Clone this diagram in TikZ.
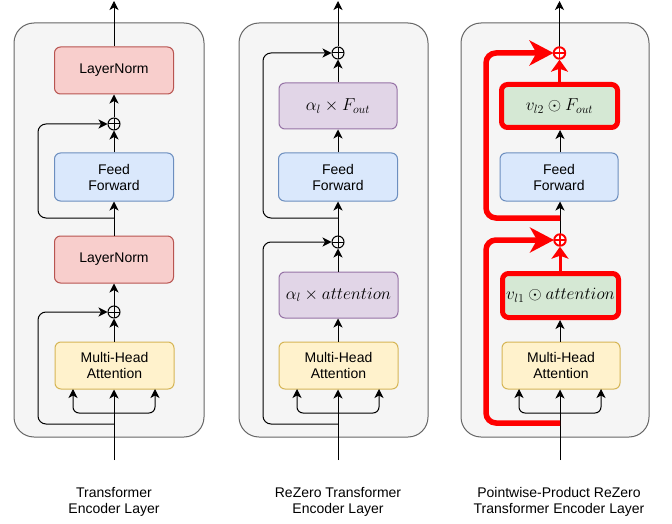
\documentclass[tikz,border=0pt]{standalone}
\usepackage{fontspec}
\setmainfont{Liberation Sans}
\usetikzlibrary{arrows.meta,calc}
\definecolor{panelfill}{HTML}{F5F5F5}
\definecolor{paneldraw}{HTML}{666666}
\definecolor{lnfill}{HTML}{F8CECC}
\definecolor{lndraw}{HTML}{B85450}
\definecolor{fffill}{HTML}{DAE8FC}
\definecolor{ffdraw}{HTML}{6C8EBF}
\definecolor{mhafill}{HTML}{FFF2CC}
\definecolor{mhadraw}{HTML}{D6B656}
\definecolor{pfill}{HTML}{E1D5E7}
\definecolor{pdraw}{HTML}{9673A6}
\definecolor{gfill}{HTML}{D5E8D4}
\definecolor{hred}{HTML}{FF0000}
\tikzset{
  panel/.style={fill=panelfill,draw=paneldraw,line width=1pt,rounded corners=20pt},
  blk/.style={rectangle,rounded corners=6pt,minimum width=119pt,minimum height=47pt,
    align=center,font=\fontsize{14}{16}\selectfont,line width=1pt,inner sep=0pt},
  lnbox/.style={blk,fill=lnfill,draw=lndraw},
  ffbox/.style={blk,fill=fffill,draw=ffdraw},
  mhabox/.style={blk,fill=mhafill,draw=mhadraw},
  pbox/.style={blk,fill=pfill,draw=pdraw,font=\fontsize{17}{20}\selectfont},
  gbox/.style={blk,fill=gfill,draw=hred,line width=5pt,minimum width=116pt,minimum height=43pt,font=\fontsize{17}{20}\selectfont},
  opl/.style={circle,draw=black,line width=1pt,minimum size=12pt,inner sep=0pt,
    path picture={\draw[line width=1pt] (path picture bounding box.north) -- (path picture bounding box.south)
      (path picture bounding box.west) -- (path picture bounding box.east);}},
  ropl/.style={circle,draw=hred,fill=white,line width=1.9pt,minimum size=11.5pt,inner sep=0pt,
    path picture={\draw[hred,line width=1.9pt] (path picture bounding box.north) -- (path picture bounding box.south)
      (path picture bounding box.west) -- (path picture bounding box.east);}},
  arr/.style={-{Stealth[length=9pt,width=9pt,inset=2.5pt]},line width=1pt},
  ln/.style={line width=1pt},
  rskip/.style={hred,line width=5.5pt,rounded corners=10pt,-{Stealth[length=24pt,width=25pt,inset=7pt]}},
  rarr/.style={hred,line width=3pt,-{Stealth[length=12pt,width=17pt,inset=3pt]}},
  lbl/.style={align=center,font=\fontsize{14}{16}\selectfont}
}
\begin{document}
\begin{tikzpicture}[x=1pt,y=-1pt]
\useasboundingbox (0,0) rectangle (672,524);
% ---------- Left panel ----------
\path[panel] (14,23) rectangle (204,437);
\node[lnbox] (L-ln2) at (114,70.5) {LayerNorm};
\node[opl] (L-op2) at (114,124) {};
\node[ffbox,minimum height=48pt] (L-ff) at (114,177) {Feed\\Forward};
\node[lnbox] (L-ln1) at (114,259.5) {LayerNorm};
\node[opl] (L-op1) at (114,312) {};
\node[mhabox] (L-mha) at (114.5,365.5) {Multi-Head\\Attention};
\coordinate (L-in) at (114,460);
\coordinate (L-out) at (114,1);
\coordinate (L-br) at (114,413);
\coordinate (L-brl) at (73,389);
\coordinate (L-brr) at (155,389);
\coordinate (L-s1) at (114,424);
\coordinate (L-k1) at (38,424);
\coordinate (L-s2) at (114,218);
\coordinate (L-k2) at (38,218);
\draw[arr] (L-in) -- (L-mha.south -| L-in);
\draw[arr,rounded corners=6pt] (L-br) -| (L-brl);
\draw[arr,rounded corners=6pt] (L-br) -| (L-brr);
\draw[arr,rounded corners=8pt] (L-s1) -- (L-k1) |- (L-op1.west);
\draw[arr] (L-mha.north -| L-in) -- (L-op1.south);
\draw[arr] (L-op1.north) -- (L-ln1.south -| L-op1);
\draw[arr] (L-ln1.north -| L-op1) -- (L-ff.south -| L-op1);
\draw[arr,rounded corners=8pt] (L-s2) -- (L-k2) |- (L-op2.west);
\draw[arr] (L-ff.north -| L-op2) -- (L-op2.south);
\draw[arr] (L-op2.north) -- (L-ln2.south -| L-op2);
\draw[arr] (L-ln2.north -| L-op2) -- (L-out);
\node[lbl] (L-lbl) at (114,502) {Transformer\\Encoder Layer};
% ---------- Middle panel ----------
\path[panel] (239,23) rectangle (428,437);
\node[opl] (M-op2) at (338,53) {};
\node[pbox,minimum width=118pt,minimum height=46pt] (M-fo) at (338,106) {$\alpha_l\times F_{out}$};
\node[ffbox,minimum height=48pt] (M-ff) at (338,177) {Feed\\Forward};
\node[opl] (M-op1) at (338,242) {};
\node[pbox,minimum width=119pt,minimum height=46pt] (M-at) at (338.5,295) {$\alpha_l\times attention$};
\node[mhabox] (M-mha) at (338.5,365.5) {Multi-Head\\Attention};
\coordinate (M-in) at (338,460);
\coordinate (M-out) at (338,1);
\coordinate (M-br) at (338,413);
\coordinate (M-brl) at (297,389);
\coordinate (M-brr) at (379,389);
\coordinate (M-s1) at (338,424);
\coordinate (M-k1) at (263,424);
\coordinate (M-s2) at (338,218);
\coordinate (M-k2) at (263,218);
\draw[arr] (M-in) -- (M-mha.south -| M-in);
\draw[arr,rounded corners=6pt] (M-br) -| (M-brl);
\draw[arr,rounded corners=6pt] (M-br) -| (M-brr);
\draw[arr] (M-mha.north -| M-in) -- (M-at.south -| M-in);
\draw[arr] (M-at.north -| M-in) -- (M-op1.south);
\draw[arr,rounded corners=8pt] (M-s1) -- (M-k1) |- (M-op1.west);
\draw[arr] (M-op1.north) -- (M-ff.south -| M-op1);
\draw[arr] (M-ff.north -| M-op1) -- (M-fo.south -| M-op1);
\draw[arr] (M-fo.north -| M-op1) -- (M-op2.south);
\draw[arr,rounded corners=8pt] (M-s2) -- (M-k2) |- (M-op2.west);
\draw[arr] (M-op2.north) -- (M-out);
\node[lbl] (M-lbl) at (338,502) {ReZero Transformer\\Encoder Layer};
% ---------- Right panel ----------
\path[panel] (461,23) rectangle (649,437);
\node[gbox] (R-v2) at (559.5,106) {$v_{l2}\odot F_{out}$};
\node[ffbox,minimum width=118pt,minimum height=48pt] (R-ff) at (559,177) {Feed\\Forward};
\node[gbox,minimum height=44pt] (R-v1) at (560.5,295.5) {$v_{l1}\odot attention$};
\node[mhabox,minimum width=118pt] (R-mha) at (561,365.5) {Multi-Head\\Attention};
\coordinate (R-in) at (560,460);
\coordinate (R-out) at (559.5,1);
\coordinate (R-br) at (560,413);
\coordinate (R-brl) at (519,389);
\coordinate (R-brr) at (601,389);
\coordinate (R-s1) at (560,423);
\coordinate (R-k1) at (486,423);
\coordinate (R-s2) at (560,218);
\coordinate (R-k2) at (486,218);
\coordinate (R-p1) at (560,240);
\coordinate (R-p2) at (559.5,53);
\draw[arr] (R-in) -- (R-mha.south -| R-in);
\draw[arr,rounded corners=6pt] (R-br) -| (R-brl);
\draw[arr,rounded corners=6pt] (R-br) -| (R-brr);
\draw[arr] (R-mha.north -| R-in) -- (R-v1.south -| R-in);
\draw[arr] (R-p1) -- (R-ff.south -| R-in);
\draw[arr] (R-ff.north -| R-in) -- (R-v2.south -| R-in);
\draw[arr] (R-p2) -- (R-out);
\draw[rskip] (R-s1) -- (R-k1) |- ([xshift=-6pt]R-p1);
\draw[rskip] (R-s2) -- (R-k2) |- ([xshift=-6pt]R-p2);
\node[ropl] (R-op1) at (R-p1) {};
\node[ropl] (R-op2) at (R-p2) {};
\draw[rarr] (R-v1.north -| R-in) -- (R-op1.south);
\draw[rarr] (R-v2.north -| R-op2) -- (R-op2.south);
\node[lbl] (R-lbl) at (559,502) {Pointwise-Product ReZero\\Transformer Encoder Layer};
\end{tikzpicture}
\end{document}
